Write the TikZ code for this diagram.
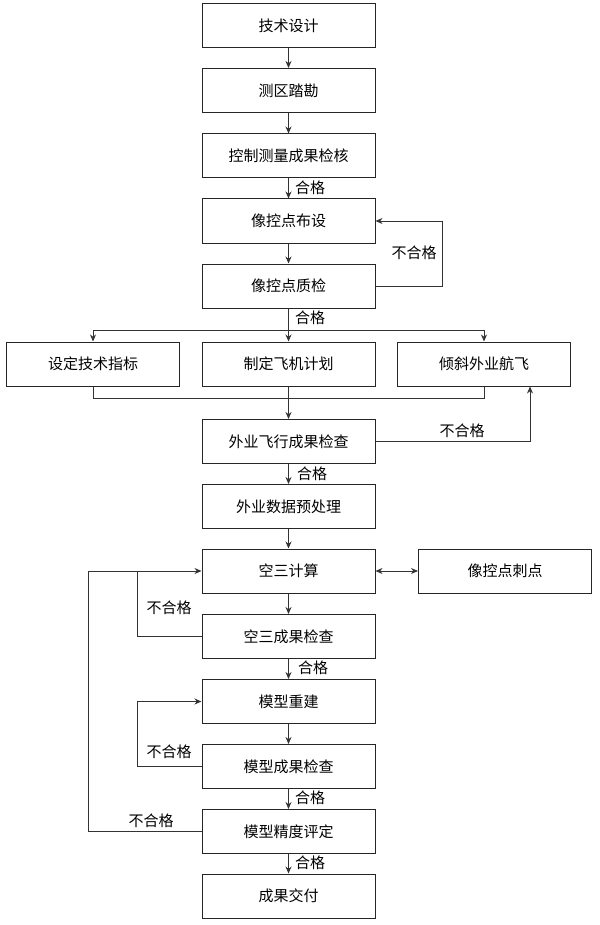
\documentclass[tikz,border=0pt]{standalone}
\usepackage{fontspec}
\newfontfamily\cjk{Noto Sans CJK SC}
\usetikzlibrary{arrows.meta}
\tikzset{
  every node/.style={font=\cjk\fontsize{15}{17}\selectfont},
  box/.style={draw=black!85, line width=1pt, minimum width=173pt, minimum height=44pt, inner sep=0pt},
  conn/.style={draw=black!80, line width=0.9pt},
  arr/.style={conn, -{Stealth[length=7pt,width=6pt]}},
  lbl/.style={inner sep=0pt}
}
\begin{document}
\begin{tikzpicture}[x=1pt,y=-1pt]
\useasboundingbox (0,0) rectangle (599,925);
\node[box] (t1) at (288.5,26) {技术设计};
\node[box] (t2) at (288.5,90.5) {测区踏勘};
\node[box] (t3) at (288.5,156) {控制测量成果检核};
\node[box] (t4) at (288.5,221) {像控点布设};
\node[box] (t5) at (288.5,286) {像控点质检};
\node[box] (r1) at (93,364) {设定技术指标};
\node[box] (r2) at (288.5,364) {制定飞机计划};
\node[box] (r3) at (484,364) {倾斜外业航飞};
\node[box] (t7) at (288.5,441.5) {外业飞行成果检查};
\node[box] (t8) at (288.5,506.5) {外业数据预处理};
\node[box] (t9) at (288.5,571) {空三计算};
\node[box] (t9r) at (505,571) {像控点刺点};
\node[box] (t10) at (288.5,636.5) {空三成果检查};
\node[box] (t11) at (288.5,701.5) {模型重建};
\node[box] (t12) at (288.5,766.5) {模型成果检查};
\node[box] (t13) at (288.5,831.5) {模型精度评定};
\node[box] (t14) at (288.5,896) {成果交付};

\coordinate (bt) at (288.5,330);
\coordinate (bbl) at (93,398);
\coordinate (bbr) at (484,398);
\coordinate (l1) at (442,286);
\coordinate (l1t) at (442,221);
\coordinate (l2) at (530,441.5);
\coordinate (l3a) at (137,636.5);
\coordinate (l3b) at (137,571);
\coordinate (l4a) at (88,831.5);
\coordinate (l4b) at (88,571);
\coordinate (l5a) at (137,766.5);
\coordinate (l5b) at (137,701.5);

\draw[arr] (t1) -- (t2);
\draw[arr] (t2) -- (t3);
\draw[arr] (t3) -- (t4);
\draw[arr] (t4) -- (t5);
\draw[arr] (t5.east) -- (l1) -- (l1t) -- (t4.east);
\draw[conn] (t5) -- (bt);
\draw[arr] (bt) -| (r1.north);
\draw[arr] (bt) -| (r3.north);
\draw[arr] (bt) -- (r2.north);
\draw[conn] (r1.south) -- (bbl) -- (bbr) -- (r3.south);
\draw[arr] (r2.south) -- (t7.north);
\draw[arr] (t7.east) -- (l2) -- (l2 |- r3.south);
\draw[arr] (t7) -- (t8);
\draw[arr] (t8) -- (t9);
\draw[arr, {Stealth[length=7pt,width=6pt]}-{Stealth[length=7pt,width=6pt]}] (t9) -- (t9r);
\draw[arr] (t9) -- (t10);
\draw[conn] (t10.west) -- (l3a) -- (l3b);
\draw[arr] (t13.west) -- (l4a) -- (l4b) -- (t9.west);
\draw[arr] (t10) -- (t11);
\draw[arr] (t11) -- (t12);
\draw[arr] (t12.west) -- (l5a) -- (l5b) -- (t11.west);
\draw[arr] (t12) -- (t13);
\draw[arr] (t13) -- (t14);

\node[lbl] (g1) at (310,188) {合格};
\node[lbl] (g2) at (310,318) {合格};
\node[lbl] (g3) at (312,474) {合格};
\node[lbl] (g4) at (313,668) {合格};
\node[lbl] (g5) at (310,798) {合格};
\node[lbl] (g6) at (310,863) {合格};
\node[lbl] (n1) at (414,253) {不合格};
\node[lbl] (n2) at (462,431) {不合格};
\node[lbl] (n3) at (169,608) {不合格};
\node[lbl] (n4) at (169,752) {不合格};
\node[lbl] (n5) at (151,821) {不合格};
\end{tikzpicture}
\end{document}
